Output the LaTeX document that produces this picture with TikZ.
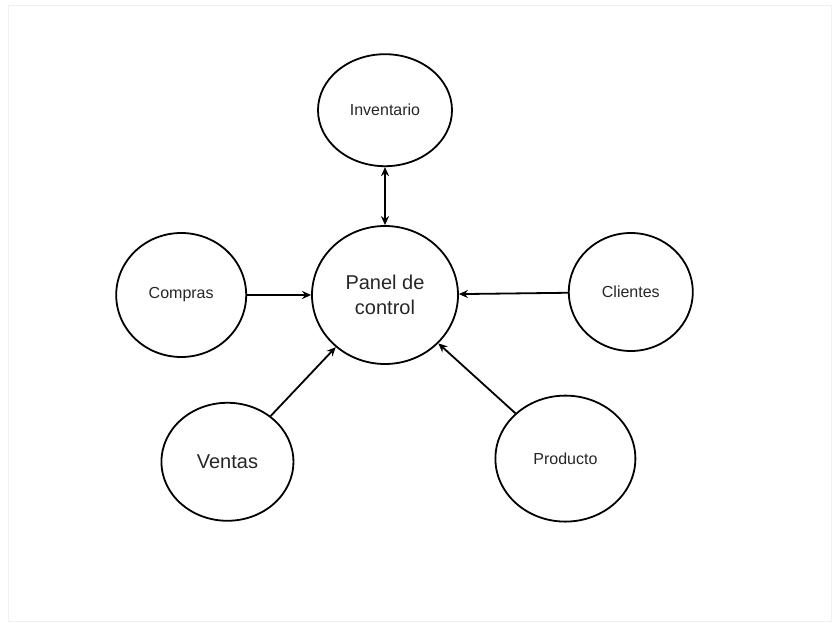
\documentclass[tikz,border=0pt]{standalone}
\usepackage{fontspec}
\setmainfont{Liberation Sans}
\usetikzlibrary{positioning,shapes.geometric,arrows.meta}
\tikzset{main node/.style={ellipse,draw,line width=1.8pt,inner sep=0pt,text=black!85,font=\fontsize{16}{19}\selectfont},
  link/.style={line width=1.8pt,-{Stealth[length=9pt,width=8pt]}},
  link both/.style={line width=1.8pt,{Stealth[length=9pt,width=8pt]}-{Stealth[length=9pt,width=8pt]}}}

\begin{document}
\begin{tikzpicture}[x=1pt,y=1pt]
            \useasboundingbox (-385,-329) rectangle (447,295);
            \draw[black!6,line width=1pt] (-376,-326) rectangle (446,289);

            \node[main node,minimum width=146pt,minimum height=138pt,align=center,font=\fontsize{20}{25}\selectfont] (P) at (0,0) {Panel de\\control};
            \node[main node,minimum width=134pt,minimum height=112pt] (I) [above = 58pt of P] {Inventario};
            \node[main node,minimum width=130pt,minimum height=124pt] (C) [left = 64pt of P] {Compras};
            \node[main node,minimum width=124pt,minimum height=118pt] (Cl) [right = 109pt of P, yshift=3pt] {Clientes};
            \node[main node,minimum width=132pt,minimum height=118pt,font=\fontsize{20}{24}\selectfont] (V) [below left = 75pt and 58pt of P] {Ventas};
            \node[main node,minimum width=140pt,minimum height=126pt] (Pr) [below right = 69pt and 78pt of P] {Producto};

            \path[link]
            (C) edge (P)
            (Cl) edge (P)
            (V) edge (P)
            (Pr) edge (P);
            \path[link both] (I) edge (P);
        \end{tikzpicture}
\end{document}
